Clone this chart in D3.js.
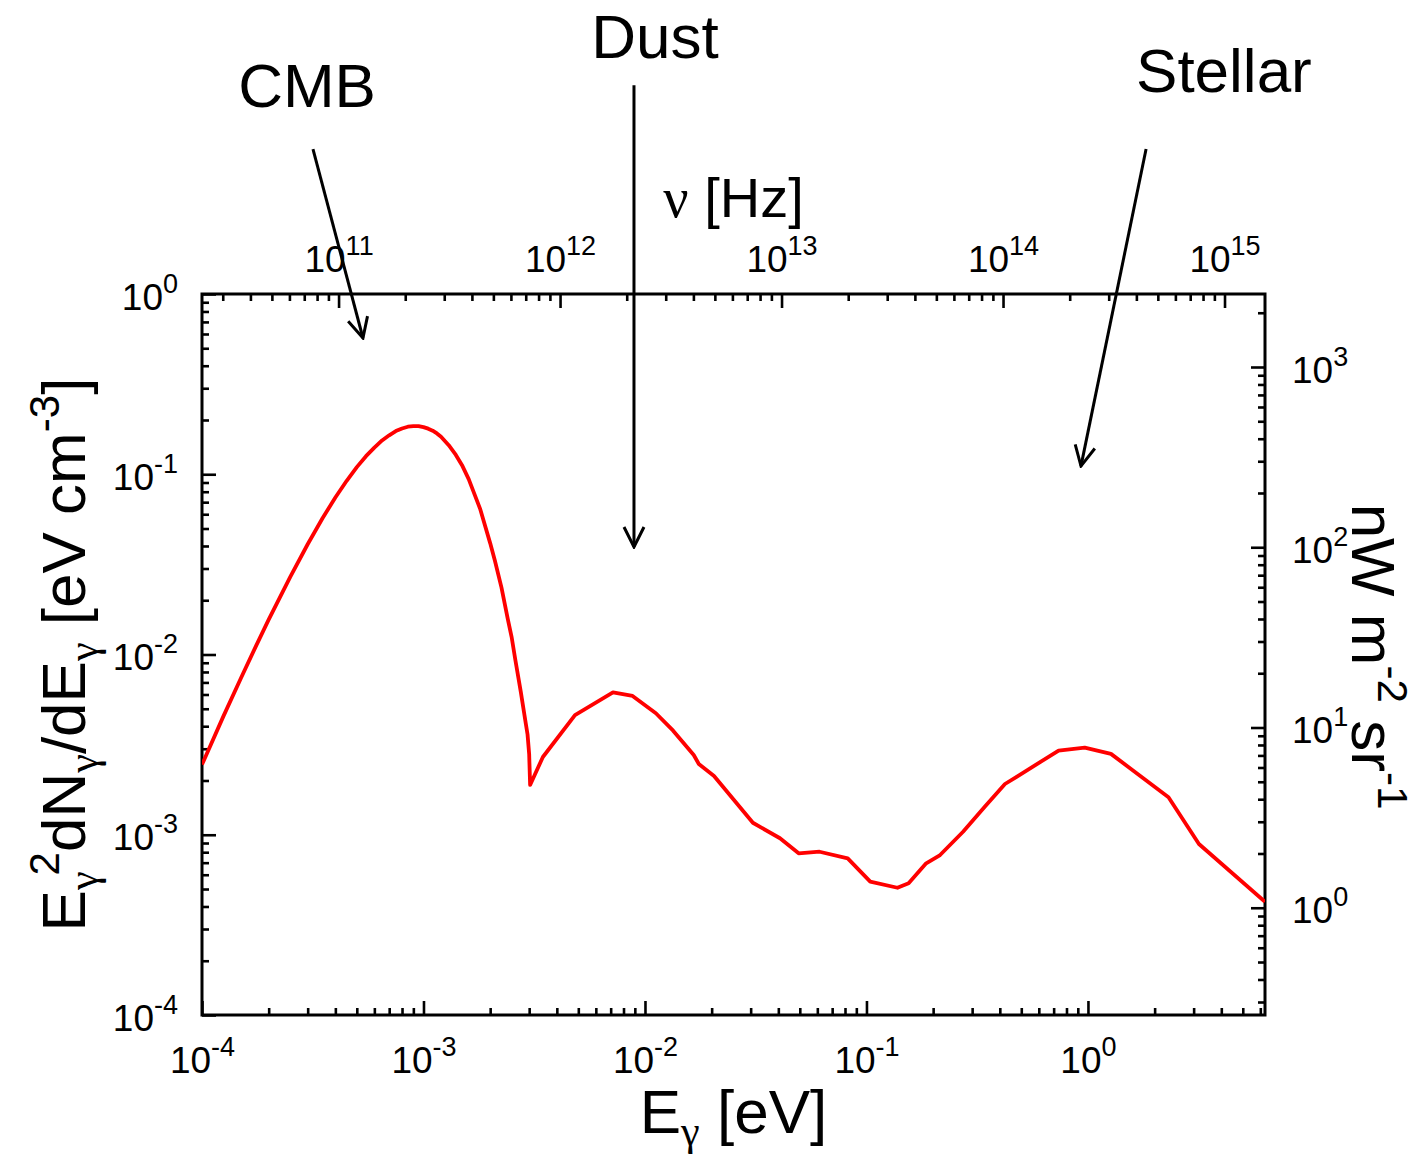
<!DOCTYPE html>
<html>
<head>
<meta charset="utf-8">
<script src="https://cdn.jsdelivr.net/npm/d3@7"></script>
<style>
body { margin: 0; background: #fff; }
text { font-family: "Liberation Sans", Arial, Helvetica, sans-serif; fill: #000; }
</style>
</head>
<body>
<div id="chart"></div>
<script>
// photon energy [eV] and energy density E^2 dN/dE [eV cm^-3]
var energy = [1.0e-4, 1.25e-4, 1.5e-4, 1.75e-4, 2.0e-4, 2.5e-4, 3.0e-4, 3.5e-4, 4.0e-4, 4.5e-4,
    5.0e-4, 5.5e-4, 6.0e-4, 6.5e-4, 7.0e-4, 7.5e-4, 8.0e-4, 8.5e-4, 9.0e-4, 9.5e-4,
    1.0e-3, 1.05e-3, 1.1e-3, 1.15e-3, 1.2e-3, 1.3e-3, 1.4e-3, 1.5e-3, 1.6e-3, 1.8e-3,
    2.0e-3, 2.1e-3, 2.25e-3, 2.4e-3, 2.5e-3, 2.6e-3, 2.75e-3, 2.9e-3, 2.95e-3, 3.0e-3,
    3.03e-3, 3.46e-3, 4.83e-3, 7.17e-3, 8.79e-3,
    1.12e-2, 1.34e-2, 1.66e-2, 1.75e-2, 2.05e-2, 3.07e-2, 4.07e-2, 4.94e-2, 6.14e-2, 8.23e-2,
    0.104, 0.138, 0.155, 0.186, 0.215, 0.273, 0.342, 0.422, 0.737, 0.967,
    1.27, 1.57, 2.31, 3.17, 6.3];
var density = [2.45e-3, 4.55e-3, 7.4e-3, 1.11e-2, 1.56e-2, 2.69e-2, 4.09e-2, 5.70e-2, 7.43e-2, 9.20e-2,
    0.1095, 0.1260, 0.1405, 0.1540, 0.1645, 0.1735, 0.1795, 0.1835, 0.1850, 0.1850,
    0.1825, 0.1790, 0.1745, 0.1685, 0.1615, 0.1450, 0.1280, 0.1110, 0.0940, 0.0645,
    0.0415, 0.0332, 0.0235, 0.0158, 0.0125, 0.0093, 0.0062, 0.0041, 0.0036, 0.0028,
    1.89e-3, 2.70e-3, 4.61e-3, 6.17e-3, 5.89e-3,
    4.72e-3, 3.78e-3, 2.77e-3, 2.47e-3, 2.12e-3, 1.166e-3, 9.56e-4, 7.89e-4, 8.05e-4, 7.40e-4,
    5.49e-4, 5.08e-4, 5.38e-4, 6.94e-4, 7.72e-4, 1.039e-3, 1.431e-3, 1.912e-3, 2.93e-3, 3.04e-3,
    2.81e-3, 2.31e-3, 1.613e-3, 8.88e-4, 4.25e-4];

// axis ranges and labelled ticks
var energyRange = [1e-4, 6.3];
var densityRange = [1e-4, 1];
var xTicks = [1e-4, 1e-3, 1e-2, 1e-1, 1];
var yTicks = [1e-4, 1e-3, 1e-2, 1e-1, 1];
var nuTicks = [1e11, 1e12, 1e13, 1e14, 1e15];
var nwTicks = [1, 10, 100, 1000];
var planck = 4.1357e-15;   // eV s, E = h nu
var nwPerEv = 2541;        // right axis units per eV cm^-3

// annotations (label anchor and arrow ends, in data units)
var annotLabels = ["CMB", "Dust", "Stellar"];
var annotLabelE = [2.98e-4, 1.11e-2, 4.11];
var annotLabelU = [10.9, 20.4, 13.2];
var arrowFromE = [3.17e-4, 8.92e-3, 1.83];
var arrowFromU = [6.37, 14.4, 6.37];
var arrowToE = [5.33e-4, 8.92e-3, 0.930];
var arrowToU = [0.570, 0.0395, 0.111];

var W = 1425, H = 1157;
var margin = {top: 294, right: 160, bottom: 142, left: 202},
    width = W - margin.left - margin.right,
    height = H - margin.top - margin.bottom;

var svg = d3.select("#chart").append("svg")
    .attr("width", W).attr("height", H);
var g = svg.append("g")
    .attr("transform", "translate(" + margin.left + "," + margin.top + ")");

var x = d3.scaleLog().domain(energyRange).range([0, width]);
var y = d3.scaleLog().domain(densityRange).range([height, 0]);
var xNu = d3.scaleLog().domain([energyRange[0] / planck, energyRange[1] / planck]).range([0, width]);
var yNw = d3.scaleLog().domain([densityRange[0] * nwPerEv, densityRange[1] * nwPerEv]).range([height, 0]);

function isMajor(v) {
    var l = Math.log10(v);
    return Math.abs(l - Math.round(l)) < 1e-6;
}

function expLabel(sel) {
    sel.each(function(d) {
        var t = d3.select(this);
        t.text("10");
        t.append("tspan").attr("dy", -17).attr("font-size", 27)
            .text(String(Math.round(Math.log10(d))));
    });
}

// one axis = minor ticks + major ticks with labels
function drawAxis(axisFn, scale, majors, transform, fixLabels) {
    var minors = scale.ticks().filter(function(d) { return !isMajor(d); });
    g.append("g").attr("transform", transform)
        .call(axisFn(scale).tickValues(minors).tickSizeInner(-7).tickSizeOuter(0).tickFormat(""))
        .call(function(s) { s.select(".domain").remove(); });
    var ax = g.append("g").attr("transform", transform)
        .call(axisFn(scale).tickValues(majors).tickSizeInner(-14).tickSizeOuter(0).tickFormat(""));
    ax.select(".domain").remove();
    ax.attr("font-size", 37).attr("font-family", null);
    var txt = ax.selectAll(".tick text").attr("dy", null);
    fixLabels(txt);
    expLabel(txt);
    return ax;
}

drawAxis(d3.axisBottom, x, xTicks, "translate(0," + height + ")",
    function(t) { t.attr("y", 58); });
drawAxis(d3.axisTop, xNu, nuTicks, "translate(0,0)",
    function(t) { t.attr("y", -22); });
drawAxis(d3.axisLeft, y, yTicks, "translate(0,0)",
    function(t) { t.attr("x", -24).attr("y", 15); });
drawAxis(d3.axisRight, yNw, nwTicks, "translate(" + width + ",0)",
    function(t) { t.attr("x", 27).attr("y", 15); });

g.selectAll(".tick line").attr("stroke", "#000").attr("stroke-width", 2.6);

// frame
g.append("rect")
    .attr("width", width).attr("height", height)
    .attr("fill", "none").attr("stroke", "#000").attr("stroke-width", 3);

// curve
g.append("clipPath").attr("id", "plotclip")
    .append("rect").attr("width", width).attr("height", height);

var line = d3.line()
    .x(function(d, i) { return x(energy[i]); })
    .y(function(d, i) { return y(density[i]); });

g.append("path")
    .datum(energy)
    .attr("clip-path", "url(#plotclip)")
    .attr("d", line)
    .attr("fill", "none")
    .attr("stroke", "#ff0000")
    .attr("stroke-width", 3.8)
    .attr("stroke-linejoin", "round");

// rich text with sub/superscripts
var greekFont = "'Liberation Serif', 'Times New Roman', serif";
function rich(t, parts, size) {
    var level = 0;
    parts.forEach(function(p) {
        var target = p.sup ? -0.42 * size : (p.sub ? 0.2 * size : 0);
        var ts = t.append("tspan").attr("dy", target - level).text(p.s);
        if (p.sup || p.sub) ts.attr("font-size", 0.68 * size);
        if (p.greek) ts.attr("font-family", greekFont);
        if (p.dx) ts.attr("dx", p.dx);
        level = target;
    });
}

// axis titles
var xt = g.append("text").attr("x", width / 2).attr("y", height + 118)
    .attr("text-anchor", "middle").attr("font-size", 62);
rich(xt, [{s: "E"}, {s: "\u03b3", sub: true, greek: true}, {s: " [eV]"}], 62);

var nt = g.append("text").attr("x", width / 2).attr("y", -77)
    .attr("text-anchor", "middle").attr("font-size", 56);
rich(nt, [{s: "\u03bd", greek: true}, {s: " [Hz]"}], 56);

var yt = g.append("text")
    .attr("transform", "translate(-117," + (height / 2) + ") rotate(-90)")
    .attr("text-anchor", "middle").attr("font-size", 62);
rich(yt, [{s: "E"}, {s: "\u03b3", sub: true, greek: true}, {s: "2", sup: true, dx: -4},
    {s: "dN"}, {s: "\u03b3", sub: true, greek: true}, {s: "/dE"}, {s: "\u03b3", sub: true, greek: true},
    {s: " [eV cm"}, {s: "-3", sup: true}, {s: "]"}], 62);

var rt = g.append("text")
    .attr("transform", "translate(" + (width + 87) + "," + (height / 2 + 2) + ") rotate(90)")
    .attr("text-anchor", "middle").attr("font-size", 62);
rich(rt, [{s: "nW m"}, {s: "-2", sup: true}, {s: " sr"}, {s: "-1", sup: true}], 62);

// annotations
svg.append("defs").append("marker")
    .attr("id", "head")
    .attr("viewBox", "-24 -14 26 28")
    .attr("refX", 0).attr("refY", 0)
    .attr("markerWidth", 26).attr("markerHeight", 28)
    .attr("markerUnits", "userSpaceOnUse")
    .attr("orient", "auto")
    .append("path")
    .attr("d", "M-20,-10 L0,0 L-20,10")
    .attr("fill", "none").attr("stroke", "#000").attr("stroke-width", 3);

annotLabels.forEach(function(lab, i) {
    g.append("line")
        .attr("x1", x(arrowFromE[i])).attr("y1", y(arrowFromU[i]))
        .attr("x2", x(arrowToE[i])).attr("y2", y(arrowToU[i]))
        .attr("stroke", "#000").attr("stroke-width", 3)
        .attr("marker-end", "url(#head)");
    g.append("text")
        .attr("x", x(annotLabelE[i])).attr("y", y(annotLabelU[i]))
        .attr("text-anchor", "middle").attr("font-size", 62)
        .text(lab);
});
</script>
</body>
</html>
